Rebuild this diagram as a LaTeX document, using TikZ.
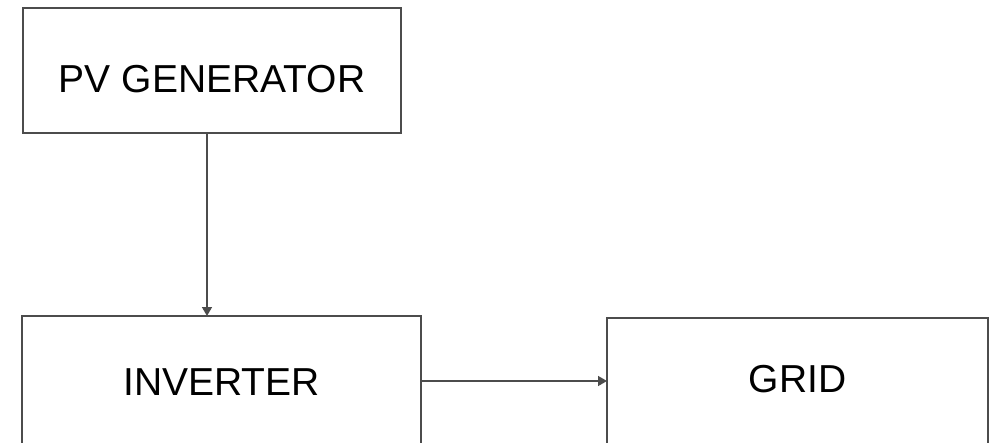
\documentclass[tikz,border=0pt]{standalone}
\usepackage{fontspec}
\setmainfont{Liberation Sans}
\usetikzlibrary{arrows.meta}
\begin{document}
\begin{tikzpicture}[x=1pt,y=-1pt,
  blk/.style={draw=black!70,line width=1.5pt,inner sep=0pt,outer sep=0pt,anchor=north west,
    font=\fontsize{39}{40}\selectfont},
  arr/.style={draw=black!70,line width=1.5pt,-{Triangle[length=9pt,width=10pt]}}]
\useasboundingbox (0,0) rectangle (990,442);
\node[blk,minimum width=378pt,text height=84pt,text depth=41pt] (pv) at (23,8) {PV GENERATOR};
\node[blk,minimum width=399pt,text height=79pt,text depth=51pt] (inv) at (22,316) {INVERTER};
\node[blk,minimum width=381pt,text height=74pt,text depth=56pt] (grid) at (607,318) {GRID};
\draw[arr] ([xshift=-5pt]pv.south) -- ([xshift=-5pt]pv.south |- inv.north);
\draw[arr] (inv.east) -- (grid.west |- inv.east);
\end{tikzpicture}
\end{document}
